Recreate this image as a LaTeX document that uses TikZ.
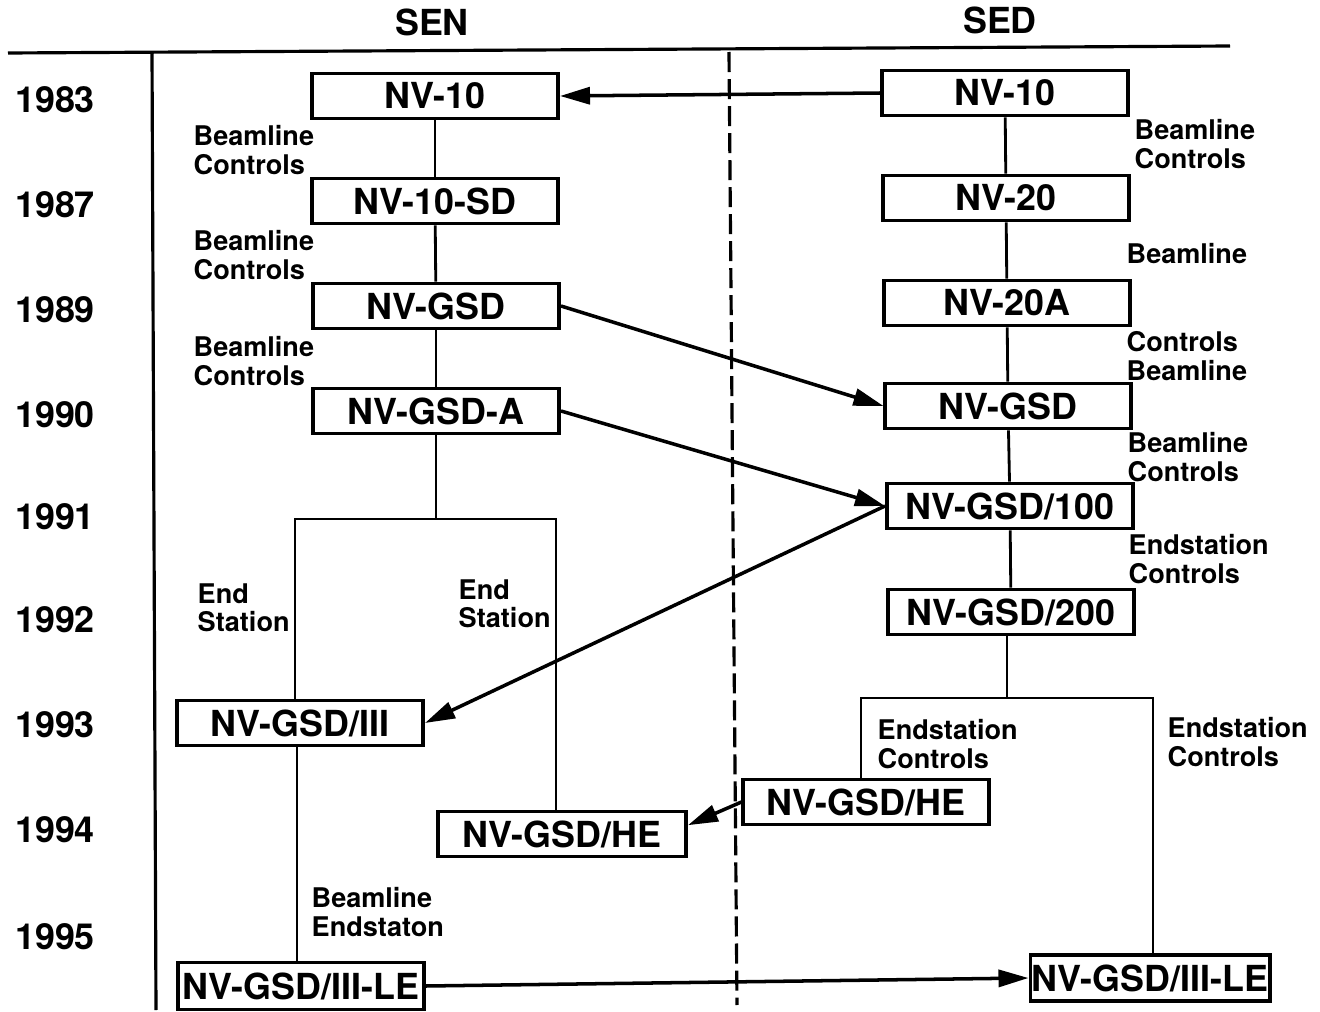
\documentclass[tikz,border=0pt]{standalone}
\usepackage{fontspec}
\setmainfont{TeX Gyre Heros}
\usetikzlibrary{arrows.meta,positioning}

\begin{document}
\begin{tikzpicture}[
  x=0.01cm, y=-0.01cm,
  unit/.style={
    draw=black,
    line width=1.1pt,
    minimum width=#1,
    minimum height=0.45cm,
    inner sep=0pt,
    font=\fontsize{10.2}{12}\selectfont\bfseries
  },
  unit/.default=2.46cm,
  tag/.style={
    align=left,
    anchor=west,
    inner sep=0pt,
    font=\fontsize{7.7}{8.1}\selectfont\bfseries
  },
  year/.style={inner sep=0pt, font=\fontsize{10.2}{12}\selectfont\bfseries},
  link/.style={line width=0.8pt, draw=black},
  feed/.style={-{Triangle[length=3mm,width=1.7mm]}, line width=1pt, draw=black}
]
\useasboundingbox (0,0) rectangle (1320,1012);

% column heads and frame
\node[year] (sen) at (432,22) {SEN};
\node[year] (sed) at (1000,20) {SED};
\draw[link, line width=0.9pt] (8,53) -- (1230,46);
\draw[link, line width=0.9pt] (152,52) -- (156,1010);
\draw[link, line width=0.9pt, dash pattern=on 0.2cm off 0.07cm] (729,52) -- (737,1005);

% years
\foreach \yr/\yy in {1983/100,1987/205,1989/310,1990/415,1991/517,1992/620,1993/725,1994/830,1995/937}
  \node[year] (y\yr) at (55,\yy) {\yr};

% SEN line
\node[unit] (sen10) at (435,96) {NV-10};
\node[unit] (sen10sd) at (435,201) {NV-10-SD};
\node[unit] (sengsd) at (436,306) {NV-GSD};
\node[unit] (sengsda) at (436,411) {NV-GSD-A};
\node[unit] (seniii) at (300,723) {NV-GSD/III};
\node[unit=2.48cm] (senhe) at (562,834) {NV-GSD/HE};
\node[unit, minimum height=0.47cm] (senle) at (301,986) {NV-GSD/III-LE};

% SED line
\node[unit=2.45cm] (sed10) at (1005,93) {NV-10};
\node[unit=2.45cm] (sed20) at (1006,198) {NV-20};
\node[unit=2.45cm] (sed20a) at (1007,303) {NV-20A};
\node[unit=2.45cm] (sedgsd) at (1008,406) {NV-GSD};
\node[unit] (sed100) at (1010,506) {NV-GSD/100};
\node[unit] (sed200) at (1011,612) {NV-GSD/200};
\node[unit=2.45cm] (sedhe) at (866,802) {NV-GSD/HE};
\node[unit=2.39cm, minimum height=0.46cm] (sedle) at (1150,978) {NV-GSD/III-LE};

% SEN labels
\node[tag] (senbc1) at (193,150) {Beamline\\Controls};
\node[tag] (senbc2) at (193,255) {Beamline\\Controls};
\node[tag] (senbc3) at (193,361) {Beamline\\Controls};
\node[tag] (senes1) at (197,608) {End\\Station};
\node[tag] (senes2) at (458,604) {End\\Station};
\node[tag] (senbe) at (311,912) {Beamline\\Endstaton};

% SED labels
\node[tag] (sedbc1) at (1134,144) {Beamline\\Controls};
\node[tag] (sedb) at (1126,254) {Beamline};
\node[tag] (sedcb) at (1126,356) {Controls\\Beamline};
\node[tag] (sedbc2) at (1127,457) {Beamline\\Controls};
\node[tag] (sedec1) at (1128,559) {Endstation\\Controls};
\node[tag] (sedec2) at (877,744) {Endstation\\Controls};
\node[tag] (sedec3) at (1167,742) {Endstation\\Controls};

% SEN lineage
\draw[link] (sen10) -- (sen10sd);
\draw[link] (sen10sd) -- (sengsd);
\draw[link] (sengsd) -- (sengsda);
\coordinate (senforkl) at (295,519);
\coordinate (senforkr) at (556,519);
\draw[link] (sengsda.south) -- (sengsda.south |- senforkl);
\draw[link] (senforkl |- seniii.north) -- (senforkl) -- (senforkr) -- (senforkr |- senhe.north);
\draw[link] (297,745) -- (297,963);

% SED lineage
\draw[link] (sed10) -- (sed20);
\draw[link] (sed20) -- (sed20a);
\draw[link] (sed20a) -- (sedgsd);
\draw[link] (sedgsd) -- (sed100);
\draw[link] (sed100) -- (sed200);
\coordinate (sedforkl) at (861,698);
\coordinate (sedforkr) at (1153,698);
\draw[link] (sed200.south -| 1007,0) -- (1007,698);
\draw[link] (sedforkl |- sedhe.north) -- (sedforkl) -- (sedforkr) -- (sedforkr |- sedle.north);

% transfers
\draw[feed] (sed10.west) -- (sen10.east);
\draw[feed] (sengsd.east) -- (sedgsd.west);
\draw[feed] (sengsda.east) -- (sed100.west);
\draw[feed] (sed100.west) -- (seniii.east);
\draw[feed] (sedhe.west) -- (senhe.4);
\draw[feed] (senle.east) -- (sedle.west);
\end{tikzpicture}
\end{document}
